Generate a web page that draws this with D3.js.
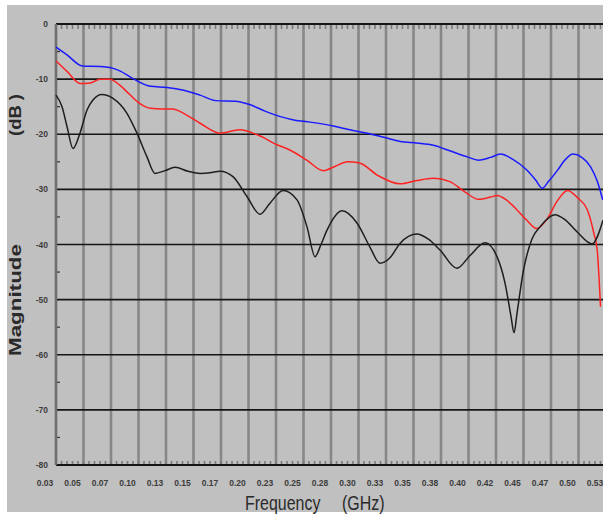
<!DOCTYPE html>
<html>
<head>
<meta charset="utf-8">
<script src="https://cdn.jsdelivr.net/npm/d3@7/dist/d3.min.js"></script>
<style>
  html, body { margin: 0; padding: 0; background: #ffffff; }
  svg { display: block; }
  .tick-label { font-family: "Liberation Sans", Arial, sans-serif; font-weight: bold; fill: #3c3c3c; }
  .axis-title { font-family: "Liberation Sans", Arial, sans-serif; fill: #2a2a2a; }
</style>
</head>
<body>
<svg id="chart" width="603" height="518"></svg>
<script>
// Frequency grid (GHz) and the labels printed under each grid line
const xTickValues = d3.range(21).map(i => 0.025 + i * 0.025);
const xTickLabels = ["0.03","0.05","0.07","0.10","0.13","0.15","0.17","0.20","0.23","0.25",
                     "0.28","0.30","0.33","0.35","0.38","0.40","0.42","0.45","0.47","0.50","0.53"];
// Magnitude grid (dB)
const yTickValues = [0, -10, -20, -30, -40, -50, -60, -70, -80];
const yTickLabels = ["0", "-10", "-20", "-30", "-40", "-50", "-60", "-70", "-80"];

// Blue trace
const blueFreq = [0.025,0.035,0.049,0.065,0.074,0.083,0.095,0.111,0.126,0.141,0.156,0.170,0.188,0.201,
                  0.215,0.229,0.241,0.256,0.277,0.292,0.308,0.324,0.338,0.353,0.368,0.383,0.399,0.409,
                  0.420,0.429,0.440,0.453,0.461,0.467,0.473,0.481,0.488,0.495,0.503,0.511,0.517,0.522];
const blueDb   = [-4.2,-5.6,-7.6,-7.7,-7.9,-8.5,-9.9,-11.3,-11.5,-12.0,-12.9,-13.9,-14.0,-14.6,
                  -15.8,-16.8,-17.4,-17.8,-18.5,-19.2,-19.8,-20.6,-21.3,-21.6,-22.0,-23.0,-24.1,-24.7,
                  -24.2,-23.6,-24.5,-26.5,-28.3,-29.8,-28.5,-26.5,-24.6,-23.6,-24.2,-25.9,-28.5,-31.9];

// Red trace
const redFreq = [0.025,0.035,0.047,0.056,0.065,0.074,0.083,0.092,0.101,0.111,0.122,0.131,0.141,0.156,
                 0.174,0.192,0.208,0.226,0.238,0.253,0.268,0.279,0.290,0.301,0.317,0.338,0.353,0.368,
                 0.383,0.397,0.409,0.420,0.426,0.435,0.444,0.453,0.462,0.471,0.481,0.490,0.499,0.508,
                 0.514,0.517,0.520];
const redDb   = [-6.7,-8.6,-10.8,-10.7,-10.0,-10.0,-11.1,-12.8,-14.4,-15.3,-15.4,-15.4,-16.2,-18.0,
                 -19.8,-19.2,-20.1,-21.9,-22.9,-24.7,-26.6,-25.8,-25.0,-25.2,-27.4,-29.0,-28.4,-28.0,
                 -28.6,-30.5,-31.8,-31.4,-31.1,-32.0,-33.7,-35.6,-37.1,-35.5,-32.0,-30.2,-31.5,-33.7,
                 -38.0,-41.0,-51.3];

// Black trace
const blackFreq = [0.025,0.0305,0.035,0.0405,0.0468,0.0532,0.0586,0.0668,0.0768,0.0895,0.0986,0.1077,
                   0.115,0.1241,0.1332,0.145,0.1559,0.165,0.1741,0.1859,0.1986,0.2105,0.2195,0.2314,
                   0.2441,0.2532,0.2605,0.2659,0.2714,0.285,0.2986,0.3105,0.3195,0.3286,0.3377,0.3532,
                   0.3632,0.3741,0.3895,0.4014,0.415,0.4259,0.4332,0.4386,0.4414,0.4441,0.4495,0.4577,
                   0.465,0.4786,0.4877,0.4986,0.5123,0.5223];
const blackDb   = [-12.9,-15.0,-18.6,-22.6,-19.8,-15.6,-13.8,-12.8,-13.5,-16.2,-19.8,-24.1,
                   -27.1,-26.6,-26.0,-26.7,-27.1,-27.0,-26.7,-27.7,-31.3,-34.5,-32.5,-30.2,
                   -31.9,-36.8,-42.2,-40.0,-37.4,-33.9,-36.1,-40.5,-43.4,-42.4,-39.8,-38.1,
                   -39.0,-41.0,-44.3,-42.0,-39.7,-42.2,-47.0,-53.0,-56.0,-52.5,-45.2,-39.0,
                   -36.8,-34.6,-35.5,-37.7,-39.9,-35.6];

const series = [
  { color: "#1a1aff", freq: blueFreq,  db: blueDb },
  { color: "#ff2222", freq: redFreq,   db: redDb },
  { color: "#1e1e1e", freq: blackFreq, db: blackDb }
];

const W = 603, H = 518;
const svg = d3.select("#chart");

// panel background with a thin white frame on the left, top and bottom
svg.append("rect").attr("x", 0).attr("y", 0).attr("width", W).attr("height", H).attr("fill", "#ffffff");
svg.append("rect").attr("x", 7).attr("y", 5).attr("width", W - 7).attr("height", 507).attr("fill", "#c0c0c0");

const x = d3.scaleLinear().domain([0.025, 0.525]).range([56, 606]);
const y = d3.scaleLinear().domain([0, -80]).range([24, 465]);

svg.append("clipPath").attr("id", "plotClip")
  .append("rect").attr("x", 50).attr("y", 0).attr("width", W - 50).attr("height", 470);

// vertical grid lines (gray)
svg.append("g").selectAll("line").data(xTickValues).join("line")
  .attr("x1", d => x(d)).attr("x2", d => x(d))
  .attr("y1", y(0)).attr("y2", y(-80))
  .attr("stroke", "#878787").attr("stroke-width", 2.6);

// horizontal grid lines (black)
svg.append("g").selectAll("line").data(yTickValues).join("line")
  .attr("x1", x(0.025)).attr("x2", W)
  .attr("y1", d => y(d)).attr("y2", d => y(d))
  .attr("stroke", "#151515").attr("stroke-width", d => (d === 0 || d === -80) ? 2 : 1.6);

// ruler ticks hanging from the top edge and rising from the bottom edge
const minorX = d3.range(0, 101).map(i => 0.025 + i * 0.005);
svg.append("g").selectAll("line").data(minorX).join("line")
  .attr("x1", d => x(d)).attr("x2", d => x(d))
  .attr("y1", y(0) + 1).attr("y2", y(0) + 5)
  .attr("stroke", "#7a7a7a").attr("stroke-width", 1.6);
svg.append("g").selectAll("line").data(minorX).join("line")
  .attr("x1", d => x(d)).attr("x2", d => x(d))
  .attr("y1", y(-80) - 1).attr("y2", y(-80) - 4)
  .attr("stroke", "#7a7a7a").attr("stroke-width", 1.6);

// minor y ticks at the half decades
const minorY = d3.range(0, 8).map(i => -5 - 10 * i);
svg.append("g").selectAll("line").data(minorY).join("line")
  .attr("x1", x(0.025)).attr("x2", x(0.025) + 4)
  .attr("y1", d => y(d)).attr("y2", d => y(d))
  .attr("stroke", "#333").attr("stroke-width", 1.2);

// left axis line
svg.append("line")
  .attr("x1", x(0.025)).attr("x2", x(0.025))
  .attr("y1", y(0)).attr("y2", y(-80))
  .attr("stroke", "#6e6e6e").attr("stroke-width", 2.2);

// y tick labels
svg.append("g").selectAll("text").data(yTickValues).join("text")
  .attr("class", "tick-label")
  .attr("x", 48).attr("y", d => y(d) + 3)
  .attr("text-anchor", "end")
  .attr("font-size", 8.5)
  .text((d, i) => yTickLabels[i]);

// x tick labels
svg.append("g").selectAll("text").data(xTickValues).join("text")
  .attr("class", "tick-label")
  .attr("x", d => x(d) - 11).attr("y", 486)
  .attr("text-anchor", "middle")
  .attr("font-size", 8.5)
  .text((d, i) => xTickLabels[i]);

// traces
const line = d3.line()
  .x(d => x(d[0]))
  .y(d => y(d[1]))
  .curve(d3.curveMonotoneX);

svg.append("g").attr("clip-path", "url(#plotClip)")
  .selectAll("path").data(series).join("path")
  .attr("d", s => line(s.freq.map((f, i) => [f, s.db[i]])))
  .attr("fill", "none")
  .attr("stroke", s => s.color)
  .attr("stroke-width", 1.5)
  .attr("stroke-linejoin", "round");

// axis titles
svg.append("text").attr("class", "axis-title")
  .attr("transform", "translate(21,356) rotate(-90)")
  .attr("font-size", 17).attr("font-weight", "bold")
  .attr("textLength", 112).attr("lengthAdjust", "spacingAndGlyphs")
  .text("Magnitude");
svg.append("text").attr("class", "axis-title")
  .attr("transform", "translate(21,136) rotate(-90)")
  .attr("font-size", 17).attr("font-weight", "bold")
  .attr("textLength", 42).attr("lengthAdjust", "spacingAndGlyphs")
  .text("(dB )");

// horizontal title: narrow, tall lettering made by squeezing a regular face
svg.append("text").attr("class", "axis-title")
  .attr("transform", "translate(245,510) scale(0.76,1)")
  .attr("font-size", 21)
  .text("Frequency");
svg.append("text").attr("class", "axis-title")
  .attr("transform", "translate(342,510) scale(0.76,1)")
  .attr("font-size", 21)
  .text("(GHz)");
</script>
</body>
</html>
